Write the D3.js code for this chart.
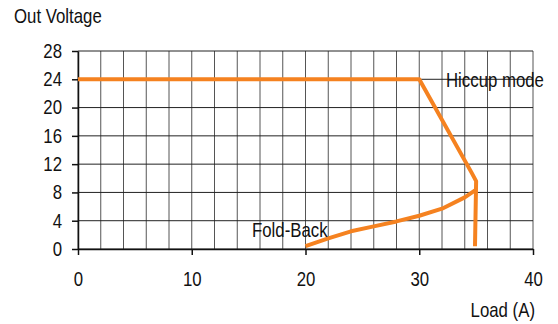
<!DOCTYPE html>
<html>
<head>
<meta charset="utf-8">
<script src="https://cdn.jsdelivr.net/npm/d3@7"></script>
<style>
  html, body { margin: 0; padding: 0; background: #fff; }
  svg text { font-family: "Liberation Sans", Arial, sans-serif; fill: #111; }
</style>
</head>
<body>
<svg id="chart" width="558" height="324"></svg>
<script>
// -------- DATA --------
const xTicks = [0, 10, 20, 30, 40];
const yTicks = [0, 4, 8, 12, 16, 20, 24, 28];
const xGrid = d3.range(0, 41, 2); // minor grid every 2 A

// hiccup branch: constant 24 V then dropping
const hiccupLoad = [0, 30, 34.6, 35, 34.9];
const hiccupVolt = [24, 24, 10.8, 9.6, 0.4];

// fold-back branch
const foldLoad = [20, 22, 24, 26, 28, 30, 32, 34, 35];
const foldVolt = [0.4, 1.5, 2.5, 3.2, 3.9, 4.7, 5.7, 7.3, 8.4];

// -------- SETUP --------
const svg = d3.select("#chart");
const orange = "#f58220";
const narrow = 0.84;   // fake condensed font
const fontSize = 20;

const x = d3.scaleLinear().domain([0, 40]).range([78, 533]);
const y = d3.scaleLinear().domain([0, 28]).range([249, 51]);

// -------- GRID --------
svg.append("g")
  .selectAll("line")
  .data(xGrid)
  .enter()
  .append("line")
  .attr("x1", d => x(d)).attr("x2", d => x(d))
  .attr("y1", y(0)).attr("y2", y(28))
  .attr("stroke", "#555")
  .attr("stroke-width", 1);

svg.append("g")
  .selectAll("line")
  .data(yTicks)
  .enter()
  .append("line")
  .attr("x1", x(0)).attr("x2", x(40))
  .attr("y1", d => y(d)).attr("y2", d => y(d))
  .attr("stroke", "#222")
  .attr("stroke-width", 1);

// -------- AXES --------
const yAxis = svg.append("g")
  .attr("transform", `translate(${x(0)},0)`)
  .call(d3.axisLeft(y).tickValues(yTicks).tickSize(6).tickSizeOuter(0).tickPadding(12));

const xAxis = svg.append("g")
  .attr("transform", `translate(0,${y(0)})`)
  .call(d3.axisBottom(x).tickValues(xTicks).tickSize(6).tickSizeOuter(0).tickPadding(17));

[yAxis, xAxis].forEach(a => {
  a.select(".domain").attr("stroke", "#111").attr("stroke-width", 1.5);
  a.selectAll(".tick line").attr("stroke", "#111").attr("stroke-width", 1.5);
  a.selectAll(".tick text")
    .attr("font-size", fontSize)
    .attr("fill", "#111")
    .style("font-family", "'Liberation Sans', Arial, sans-serif")
    .attr("transform", `scale(${narrow},1)`);
});
// keep y labels right edge where it should be after scaling
yAxis.selectAll(".tick text").attr("x", -16 / narrow);

// -------- CURVES --------
const line = d3.line()
  .x(d => x(d[0]))
  .y(d => y(d[1]));

svg.append("path")
  .datum(hiccupLoad.map((v, i) => [v, hiccupVolt[i]]))
  .attr("d", line)
  .attr("fill", "none")
  .attr("stroke", orange)
  .attr("stroke-width", 4)
  .attr("stroke-linejoin", "round");

svg.append("path")
  .datum(foldLoad.map((v, i) => [v, foldVolt[i]]))
  .attr("d", line)
  .attr("fill", "none")
  .attr("stroke", orange)
  .attr("stroke-width", 4)
  .attr("stroke-linejoin", "round");

// -------- LABELS --------
function label(tx, ty, str, anchor) {
  svg.append("text")
    .attr("transform", `translate(${tx},${ty}) scale(${narrow},1)`)
    .attr("text-anchor", anchor || "start")
    .attr("font-size", fontSize)
    .text(str);
}

label(14, 23, "Out Voltage");
label(535, 317, "Load (A)", "end");
label(446, 87, "Hiccup mode");
label(252, 237, "Fold-Back");
</script>
</body>
</html>
